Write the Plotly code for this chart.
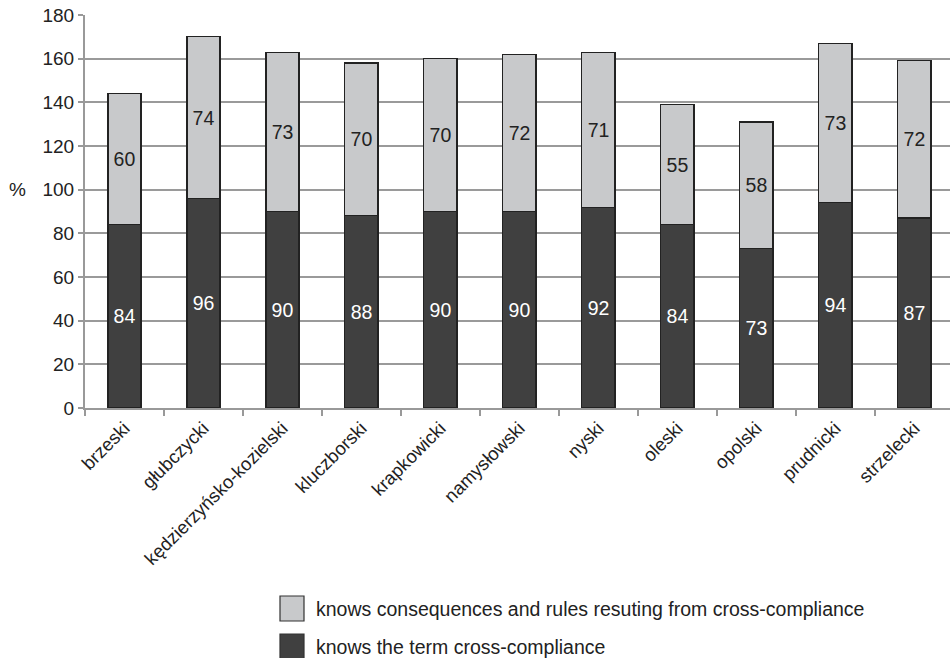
import plotly.graph_objects as go

categories = ["brzeski", "głubczycki", "kędzierzyńsko-kozielski", "kluczborski", "krapkowicki",
              "namysłowski", "nyski", "oleski", "opolski", "prudnicki", "strzelecki"]
knows_term = [84, 96, 90, 88, 90, 90, 92, 84, 73, 94, 87]
knows_rules = [60, 74, 73, 70, 70, 72, 71, 55, 58, 73, 72]
y_ticks = [0, 20, 40, 60, 80, 100, 120, 140, 160, 180]

name_term = "knows the term cross-compliance"
name_rules = "knows consequences and rules resuting from cross-compliance"

DARK = "#404040"
LIGHT = "#c8c9cb"
FONT = "Liberation Sans, Arial, sans-serif"
TXT = "#222222"

fig = go.Figure()
fig.add_trace(go.Bar(
    x=categories, y=knows_term, name=name_term, showlegend=False,
    marker=dict(color=DARK, line=dict(color="#222222", width=1.2)),
    text=knows_term, textposition="inside", insidetextanchor="middle",
    textfont=dict(color="white", size=19.5, family=FONT), width=0.42,
    constraintext="none",
))
fig.add_trace(go.Bar(
    x=categories, y=knows_rules, name=name_rules, showlegend=False,
    marker=dict(color=LIGHT, line=dict(color="#222222", width=1.2)),
    text=knows_rules, textposition="inside", insidetextanchor="middle",
    textfont=dict(color=TXT, size=19.5, family=FONT), width=0.42,
    constraintext="none",
))

# legend drawn as boxes + labels in paper coordinates (plot area: x 85..950, y 15..408 px)
def px_x(p):
    return (p - 85) / 865.0

def px_y(p):
    return (408 - p) / 393.0

legend_items = [(name_rules, LIGHT, 596, 621), (name_term, DARK, 634, 659)]
shapes = []
annotations = []
for label, color, top, bottom in legend_items:
    shapes.append(dict(
        type="rect", xref="paper", yref="paper",
        x0=px_x(280), x1=px_x(304), y0=px_y(bottom), y1=px_y(top),
        fillcolor=color, line=dict(color="#333333", width=1.2),
    ))
    annotations.append(dict(
        text=label, xref="paper", yref="paper", x=px_x(314), y=px_y((top + bottom) / 2),
        xanchor="left", yanchor="middle", showarrow=False,
        font=dict(size=19.5, color=TXT, family=FONT),
    ))

annotations.append(dict(
    text="%", xref="paper", yref="y", x=px_x(17), y=100, showarrow=False,
    xanchor="center", yanchor="middle", font=dict(size=19, color=TXT, family=FONT),
))

fig.update_layout(
    width=950, height=658,
    barmode="stack",
    plot_bgcolor="white", paper_bgcolor="white",
    margin=dict(l=85, r=0, t=15, b=250),
    font=dict(family=FONT, size=18, color=TXT),
    showlegend=False,
    uniformtext=dict(mode=False),
    shapes=shapes,
    annotations=annotations,
)
fig.update_xaxes(
    type="category", range=[-0.5, 10.45],
    tickangle=-45, tickfont=dict(size=18.5, family=FONT, color=TXT),
    showline=True, linecolor="#999999", linewidth=2,
    ticks="outside", tickson="boundaries", ticklen=6, tickcolor="#999999", tickwidth=1.5,
    showgrid=False,
)
fig.update_yaxes(
    range=[0, 180], tickvals=y_ticks, ticktext=[str(v) for v in y_ticks],
    tickfont=dict(size=19, family=FONT, color=TXT),
    showgrid=True, gridcolor="#9a9a9a", gridwidth=2,
    showline=True, linecolor="#999999", linewidth=2,
    ticks="outside", ticklen=5, tickcolor="#999999", tickwidth=1.5,
    zeroline=False,
)

fig.write_html("out.html")
